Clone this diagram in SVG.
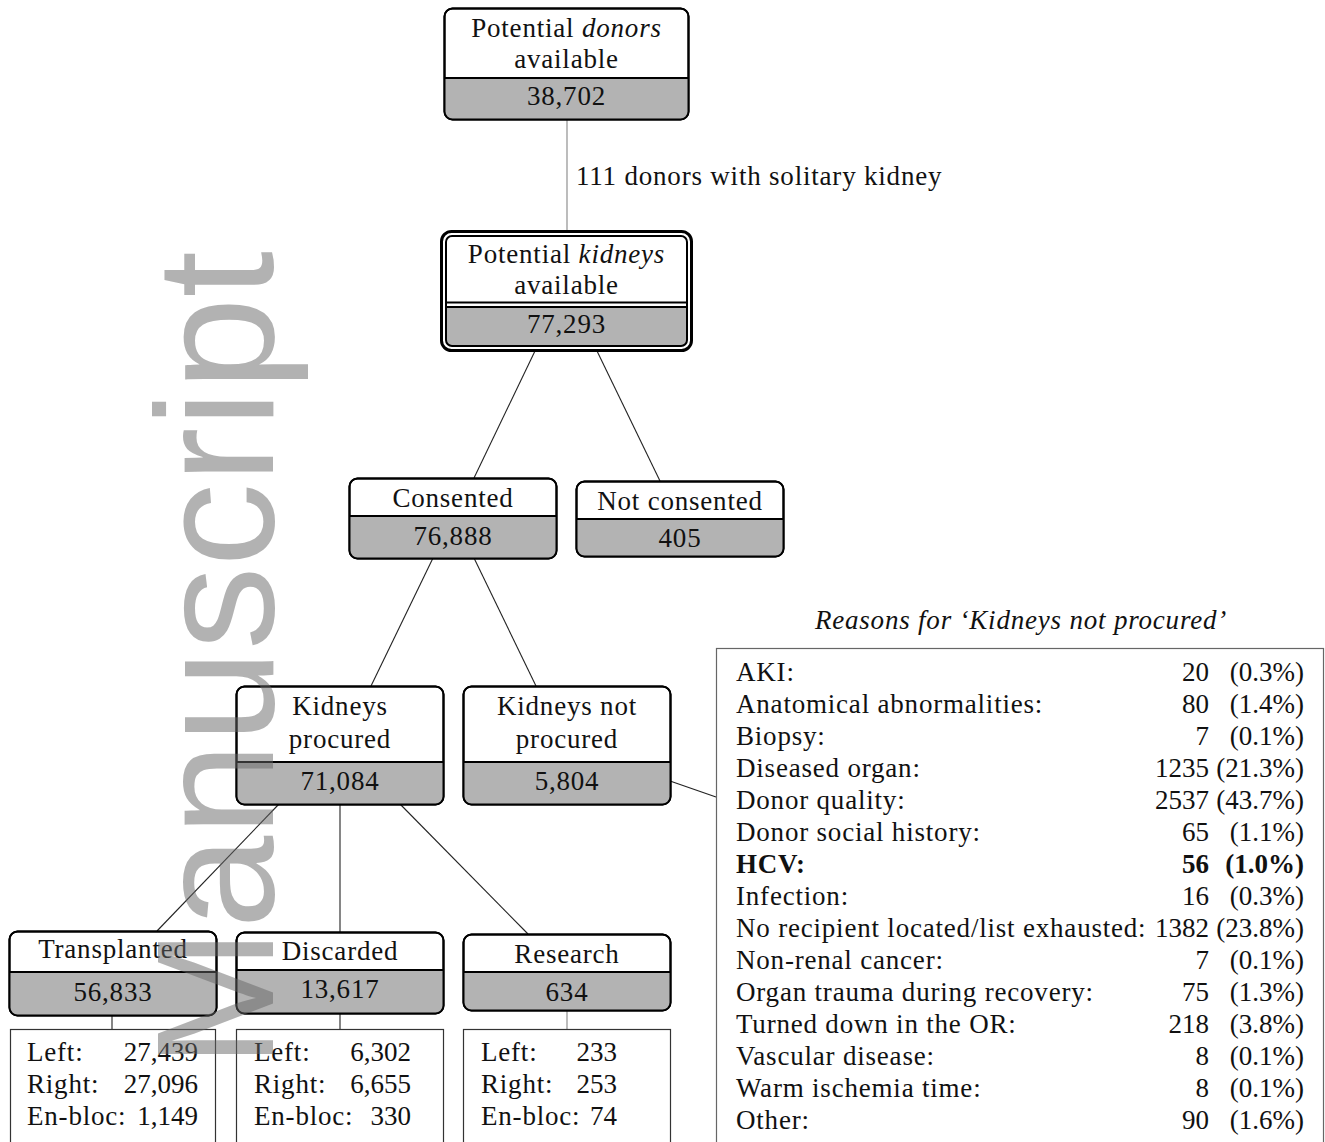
<svg xmlns="http://www.w3.org/2000/svg" width="1325" height="1142" viewBox="0 0 1325 1142">
<style>
text{font-family:"Liberation Serif","Times New Roman",serif;font-size:27px;fill:#111;letter-spacing:0.8px}
.c{text-anchor:middle}
.e{text-anchor:end;letter-spacing:0}
.it{font-style:italic}
.b{font-weight:bold}
.box{fill:#fff;stroke:#000;stroke-width:2}
.gr{fill:#b3b3b3}
.div{stroke:#000;stroke-width:2}
.ln{stroke:#222;stroke-width:1.1;fill:none}
.lg{stroke:#999;stroke-width:1.3;fill:none}
.sub{fill:#fff;stroke:#333;stroke-width:1.2}
.tbl{fill:#fff;stroke:#666;stroke-width:1.2}
.wm{font-family:"Liberation Sans",Arial,sans-serif;font-size:167px;fill:#666;fill-opacity:0.5;letter-spacing:0}
</style>
<defs>
<clipPath id="cTop"><rect x="444.5" y="8.5" width="244" height="111" rx="8"/></clipPath>
<clipPath id="cKid"><rect x="446" y="236" width="241" height="110" rx="6"/></clipPath>
<clipPath id="cCon"><rect x="349.5" y="478.5" width="207" height="80" rx="8"/></clipPath>
<clipPath id="cNot"><rect x="576.5" y="481.5" width="207" height="75" rx="8"/></clipPath>
<clipPath id="cKp"><rect x="236.5" y="686.5" width="207" height="118" rx="8"/></clipPath>
<clipPath id="cKnp"><rect x="463.5" y="686.5" width="207" height="118" rx="8"/></clipPath>
<clipPath id="cTr"><rect x="9.5" y="931.5" width="207" height="84" rx="8"/></clipPath>
<clipPath id="cDi"><rect x="236.5" y="932.5" width="207" height="81" rx="8"/></clipPath>
<clipPath id="cRe"><rect x="463.5" y="934.5" width="207" height="76" rx="8"/></clipPath>
</defs>

<g id="connectors">
<line class="lg" x1="567" y1="120" x2="567" y2="232"/>
<line class="ln" x1="535" y1="351" x2="474" y2="478"/>
<line class="ln" x1="597" y1="351" x2="660" y2="481"/>
<line class="ln" x1="433" y1="558" x2="371" y2="686"/>
<line class="ln" x1="474" y1="558" x2="536" y2="686"/>
<line class="ln" x1="279" y1="804" x2="157" y2="931"/>
<line class="ln" x1="340" y1="804" x2="340" y2="932"/>
<line class="ln" x1="400" y1="804" x2="528" y2="934"/>
<line class="ln" x1="112" y1="1015" x2="112" y2="1029"/>
<line class="ln" x1="340" y1="1013" x2="340" y2="1029"/>
<line class="lg" x1="567" y1="1010" x2="567" y2="1029"/>
<line class="ln" x1="670" y1="781" x2="716" y2="797"/>
<text x="576" y="185">111 donors with solitary kidney</text>
</g>

<g id="node-donors">
<rect class="box" x="444.5" y="8.5" width="244" height="111" rx="8"/>
<rect class="gr" x="444" y="78" width="245" height="42" clip-path="url(#cTop)"/>
<line class="div" x1="444.5" y1="78" x2="688.5" y2="78"/>
<rect x="444.5" y="8.5" width="244" height="111" rx="8" fill="none" stroke="#000" stroke-width="2"/>
<text class="c" x="566.5" y="37">Potential <tspan class="it">donors</tspan></text>
<text class="c" x="566.5" y="68">available</text>
<text class="c" x="566.5" y="105">38,702</text>
</g>

<g id="node-kidneys">
<rect x="441.5" y="231.5" width="250" height="119" rx="10" fill="#fff" stroke="#000" stroke-width="3"/>
<rect class="gr" x="446" y="307" width="241" height="40" clip-path="url(#cKid)"/>
<rect x="446" y="236" width="241" height="110" rx="6" fill="none" stroke="#000" stroke-width="2"/>
<line class="div" x1="446" y1="302.5" x2="687" y2="302.5"/>
<line class="div" x1="446" y1="307" x2="687" y2="307"/>
<text class="c" x="566.5" y="263">Potential <tspan class="it">kidneys</tspan></text>
<text class="c" x="566.5" y="294">available</text>
<text class="c" x="566.5" y="333">77,293</text>
</g>

<g id="node-consented">
<rect class="box" x="349.5" y="478.5" width="207" height="80" rx="8"/>
<rect class="gr" x="349" y="516" width="208" height="43" clip-path="url(#cCon)"/>
<line class="div" x1="349.5" y1="516" x2="556.5" y2="516"/>
<rect x="349.5" y="478.5" width="207" height="80" rx="8" fill="none" stroke="#000" stroke-width="2"/>
<text class="c" x="453" y="507">Consented</text>
<text class="c" x="453" y="545">76,888</text>
</g>

<g id="node-notconsented">
<rect class="box" x="576.5" y="481.5" width="207" height="75" rx="8"/>
<rect class="gr" x="576" y="519" width="208" height="38" clip-path="url(#cNot)"/>
<line class="div" x1="576.5" y1="519" x2="783.5" y2="519"/>
<rect x="576.5" y="481.5" width="207" height="75" rx="8" fill="none" stroke="#000" stroke-width="2"/>
<text class="c" x="680" y="510">Not consented</text>
<text class="c" x="680" y="547">405</text>
</g>

<g id="node-procured">
<rect class="box" x="236.5" y="686.5" width="207" height="118" rx="8"/>
<rect class="gr" x="236" y="762" width="208" height="43" clip-path="url(#cKp)"/>
<line class="div" x1="236.5" y1="762" x2="443.5" y2="762"/>
<rect x="236.5" y="686.5" width="207" height="118" rx="8" fill="none" stroke="#000" stroke-width="2"/>
<text class="c" x="340" y="715">Kidneys</text>
<text class="c" x="340" y="748">procured</text>
<text class="c" x="340" y="790">71,084</text>
</g>

<g id="node-notprocured">
<rect class="box" x="463.5" y="686.5" width="207" height="118" rx="8"/>
<rect class="gr" x="463" y="762" width="208" height="43" clip-path="url(#cKnp)"/>
<line class="div" x1="463.5" y1="762" x2="670.5" y2="762"/>
<rect x="463.5" y="686.5" width="207" height="118" rx="8" fill="none" stroke="#000" stroke-width="2"/>
<text class="c" x="567" y="715">Kidneys not</text>
<text class="c" x="567" y="748">procured</text>
<text class="c" x="567" y="790">5,804</text>
</g>

<g id="node-transplanted">
<rect class="box" x="9.5" y="931.5" width="207" height="84" rx="8"/>
<rect class="gr" x="9" y="972" width="208" height="44" clip-path="url(#cTr)"/>
<line class="div" x1="9.5" y1="972" x2="216.5" y2="972"/>
<rect x="9.5" y="931.5" width="207" height="84" rx="8" fill="none" stroke="#000" stroke-width="2"/>
<text class="c" x="113" y="958">Transplanted</text>
<text class="c" x="113" y="1001">56,833</text>
</g>

<g id="node-discarded">
<rect class="box" x="236.5" y="932.5" width="207" height="81" rx="8"/>
<rect class="gr" x="236" y="970" width="208" height="44" clip-path="url(#cDi)"/>
<line class="div" x1="236.5" y1="970" x2="443.5" y2="970"/>
<rect x="236.5" y="932.5" width="207" height="81" rx="8" fill="none" stroke="#000" stroke-width="2"/>
<text class="c" x="340" y="960">Discarded</text>
<text class="c" x="340" y="998">13,617</text>
</g>

<g id="node-research">
<rect class="box" x="463.5" y="934.5" width="207" height="76" rx="8"/>
<rect class="gr" x="463" y="972" width="208" height="39" clip-path="url(#cRe)"/>
<line class="div" x1="463.5" y1="972" x2="670.5" y2="972"/>
<rect x="463.5" y="934.5" width="207" height="76" rx="8" fill="none" stroke="#000" stroke-width="2"/>
<text class="c" x="567" y="963">Research</text>
<text class="c" x="567" y="1001">634</text>
</g>

<g id="sub-transplanted">
<rect class="sub" x="10.5" y="1029.5" width="205" height="130"/>
<text x="27" y="1061">Left:</text><text class="e" x="198" y="1061">27,439</text>
<text x="27" y="1093">Right:</text><text class="e" x="198" y="1093">27,096</text>
<text x="27" y="1125">En-bloc:</text><text class="e" x="198" y="1125">1,149</text>
</g>

<g id="sub-discarded">
<rect class="sub" x="236.5" y="1029.5" width="207" height="130"/>
<text x="254" y="1061">Left:</text><text class="e" x="411" y="1061">6,302</text>
<text x="254" y="1093">Right:</text><text class="e" x="411" y="1093">6,655</text>
<text x="254" y="1125">En-bloc:</text><text class="e" x="411" y="1125">330</text>
</g>

<g id="sub-research">
<rect class="sub" x="463.5" y="1029.5" width="207" height="130"/>
<text x="481" y="1061">Left:</text><text class="e" x="617" y="1061">233</text>
<text x="481" y="1093">Right:</text><text class="e" x="617" y="1093">253</text>
<text x="481" y="1125">En-bloc:</text><text class="e" x="617" y="1125">74</text>
</g>

<g id="reasons">
<text class="c it" x="1021" y="629">Reasons for ‘Kidneys not procured’</text>
<rect class="tbl" x="716.5" y="648.5" width="607" height="520"/>
<text x="736" y="681">AKI:</text><text class="e" x="1209" y="681">20</text><text class="e" x="1304" y="681">(0.3%)</text>
<text x="736" y="713">Anatomical abnormalities:</text><text class="e" x="1209" y="713">80</text><text class="e" x="1304" y="713">(1.4%)</text>
<text x="736" y="745">Biopsy:</text><text class="e" x="1209" y="745">7</text><text class="e" x="1304" y="745">(0.1%)</text>
<text x="736" y="777">Diseased organ:</text><text class="e" x="1209" y="777">1235</text><text class="e" x="1304" y="777">(21.3%)</text>
<text x="736" y="809">Donor quality:</text><text class="e" x="1209" y="809">2537</text><text class="e" x="1304" y="809">(43.7%)</text>
<text x="736" y="841">Donor social history:</text><text class="e" x="1209" y="841">65</text><text class="e" x="1304" y="841">(1.1%)</text>
<text class="b" x="736" y="873">HCV:</text><text class="e b" x="1209" y="873">56</text><text class="e b" x="1304" y="873">(1.0%)</text>
<text x="736" y="905">Infection:</text><text class="e" x="1209" y="905">16</text><text class="e" x="1304" y="905">(0.3%)</text>
<text x="736" y="937">No recipient located/list exhausted:</text><text class="e" x="1209" y="937">1382</text><text class="e" x="1304" y="937">(23.8%)</text>
<text x="736" y="969">Non-renal cancer:</text><text class="e" x="1209" y="969">7</text><text class="e" x="1304" y="969">(0.1%)</text>
<text x="736" y="1001">Organ trauma during recovery:</text><text class="e" x="1209" y="1001">75</text><text class="e" x="1304" y="1001">(1.3%)</text>
<text x="736" y="1033">Turned down in the OR:</text><text class="e" x="1209" y="1033">218</text><text class="e" x="1304" y="1033">(3.8%)</text>
<text x="736" y="1065">Vascular disease:</text><text class="e" x="1209" y="1065">8</text><text class="e" x="1304" y="1065">(0.1%)</text>
<text x="736" y="1097">Warm ischemia time:</text><text class="e" x="1209" y="1097">8</text><text class="e" x="1304" y="1097">(0.1%)</text>
<text x="736" y="1129">Other:</text><text class="e" x="1209" y="1129">90</text><text class="e" x="1304" y="1129">(1.6%)</text>
</g>

<text class="wm" text-anchor="end" transform="translate(273,251) rotate(-90)">Manuscript</text>
</svg>
